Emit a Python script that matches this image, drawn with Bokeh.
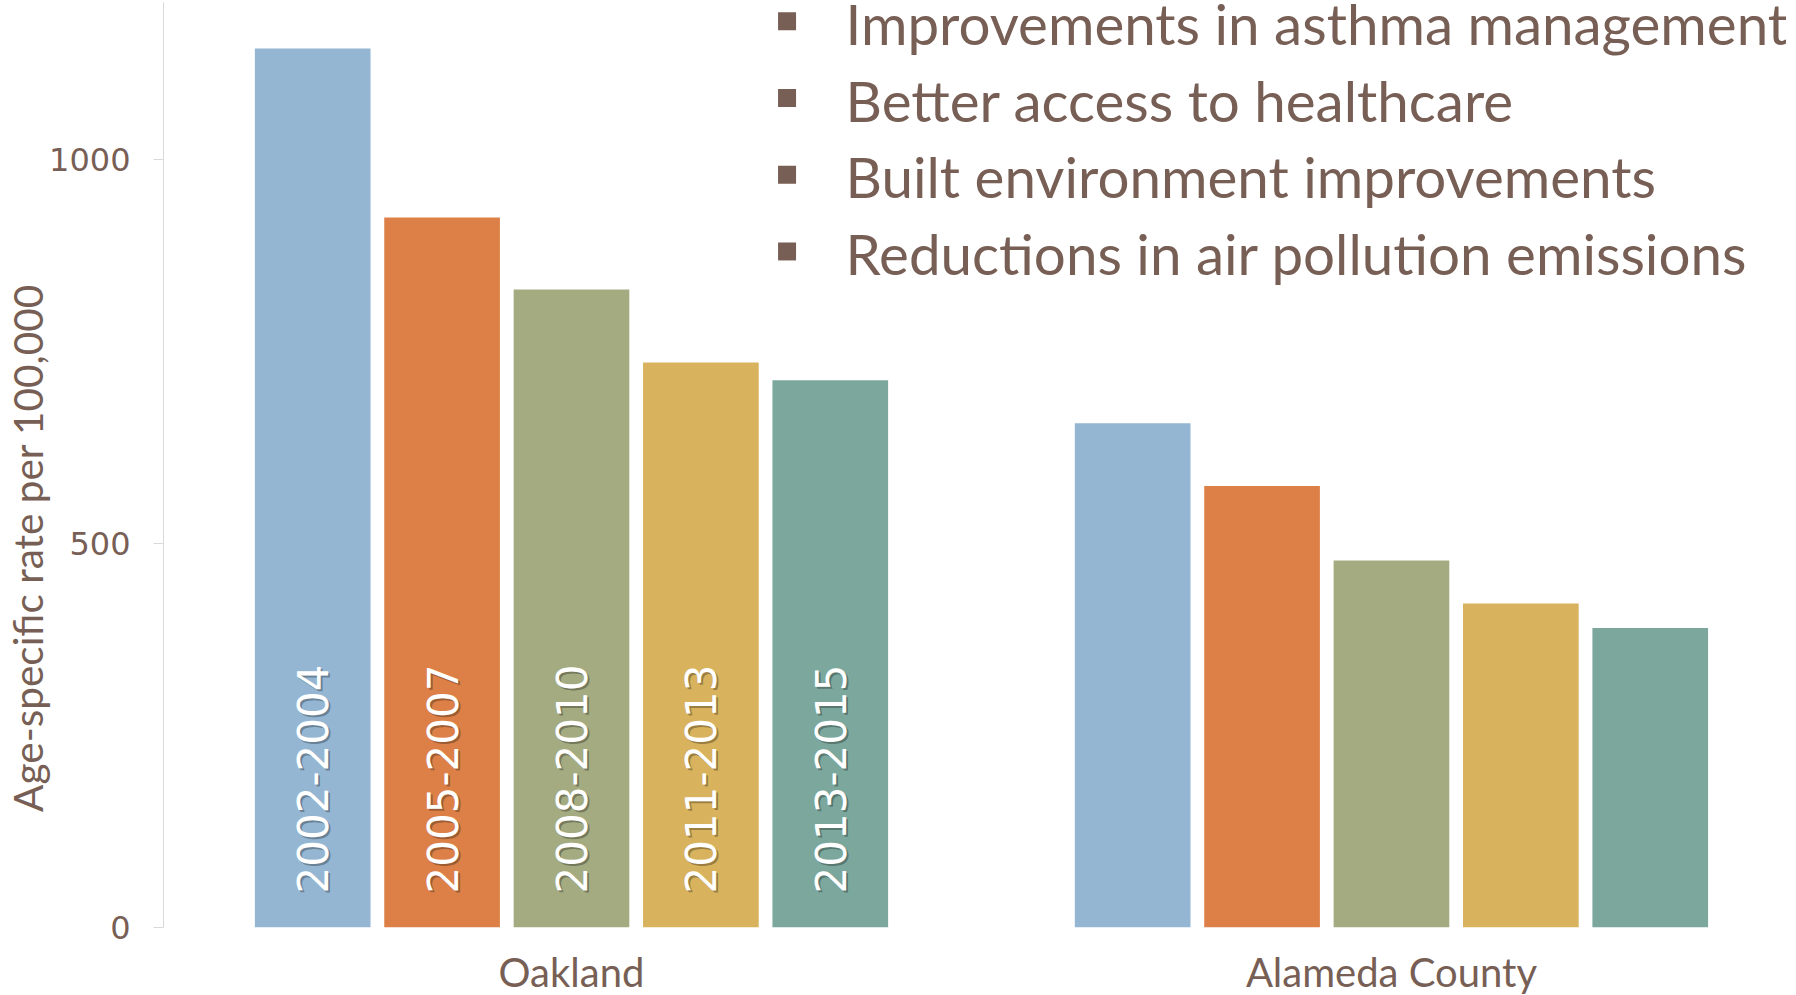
import math
from bokeh.plotting import figure
from bokeh.models import ColumnDataSource, Range1d, FixedTicker, LinearAxis
from bokeh.core.properties import value
from bokeh.embed import file_html
from bokeh.resources import INLINE

# ---------------- data ----------------
periods = ["2002-2004", "2005-2007", "2008-2010", "2011-2013", "2013-2015"]
groups = ["Oakland", "Alameda County"]
oakland = [1145, 925, 831, 736, 713]
alameda = [657, 575, 478, 422, 390]
y_ticks = [0, 500, 1000]
legend_items = [
    "Improvements in asthma management",
    "Better access to healthcare",
    "Built environment improvements",
    "Reductions in air pollution emissions",
]
y_title = "Age-specific rate per 100,000"

# ---------------- style / layout ----------------
colors = ["#94B6D2", "#DD8047", "#A5AB81", "#D8B25C", "#7BA79D"]
TEXT = "#775F55"
AXIS = "#D9D9D9"
NARROW = "Lato"
WIDE = "DejaVu Sans"

GROUP_OFFSET = 6.337   # distance (in bar steps) between first bars of the groups
BAR_W = 0.894
X_START, X_END = -1.153, 11.39
Y_START, Y_END = 0, 1205

FRAME_W, FRAME_H = 1623, 925
BORDER_L, BORDER_T, BORDER_B = 163, 2, 40
TITLE_PAD = 16          # non-breaking spaces that push the axis title down

values = [oakland, alameda]
n = len(periods)
xs, tops, cols = [], [], []
for g, vals in enumerate(values):
    for s, v in enumerate(vals):
        xs.append(g * GROUP_OFFSET + s)
        tops.append(v)
        cols.append(colors[s])
bars = ColumnDataSource(dict(x=xs, top=tops, color=cols))

p = figure(
    frame_width=FRAME_W, frame_height=FRAME_H,
    x_range=Range1d(X_START, X_END), y_range=Range1d(Y_START, Y_END),
    output_backend="svg", toolbar_location=None,
    min_border_left=BORDER_L, min_border_right=0,
    min_border_top=BORDER_T, min_border_bottom=BORDER_B,
)
p.outline_line_color = None
p.grid.visible = False
p.background_fill_color = "white"
p.border_fill_color = "white"

p.vbar(x="x", top="top", width=BAR_W, fill_color="color", line_color=None, source=bars)

# rotated period labels inside the Oakland bars
lab = ColumnDataSource(dict(x=[s for s in range(n)], y=[0] * n, text=periods))
p.text(x="x", y="y", text="text", source=lab, angle=math.pi / 2,
       text_align="left", text_baseline="middle",
       text_font=value(WIDE), text_font_size="42px",
       text_color="#000000", text_alpha=0.3, x_offset=2, y_offset=-32)
p.text(x="x", y="y", text="text", source=lab, angle=math.pi / 2,
       text_align="left", text_baseline="middle",
       text_font=value(WIDE), text_font_size="42px",
       text_color="white", x_offset=0, y_offset=-34)

# y axis
ax = p.yaxis[0]
ax.ticker = FixedTicker(ticks=y_ticks)
ax.axis_line_color = AXIS
ax.major_tick_line_color = AXIS
ax.major_tick_out = 10
ax.major_tick_in = 0
ax.minor_tick_line_color = None
ax.major_label_text_font = WIDE
ax.major_label_text_font_size = "32px"
ax.major_label_text_color = TEXT
ax.major_label_standoff = 23
ax.axis_label = y_title + "\u00a0" * TITLE_PAD
ax.axis_label_text_font = NARROW
ax.axis_label_text_font_size = "40.5px"
ax.axis_label_text_font_style = "normal"
ax.axis_label_text_color = TEXT
ax.axis_label_standoff = -6

# category axis: a second x scale on which the group centres are 0 and 1
p.xaxis.visible = False
c0 = (n - 1) / 2
p.extra_x_ranges = {"grp": Range1d((X_START - c0) / GROUP_OFFSET, (X_END - c0) / GROUP_OFFSET)}
gax = LinearAxis(x_range_name="grp")
gax.ticker = FixedTicker(ticks=list(range(len(groups))))
gax.major_label_overrides = {i: name for i, name in enumerate(groups)}
gax.axis_line_color = None
gax.major_tick_line_color = None
gax.minor_tick_line_color = None
gax.major_label_text_font = NARROW
gax.major_label_text_font_size = "40px"
gax.major_label_text_color = TEXT
gax.major_label_standoff = 14
p.add_layout(gax, "below")

# bullet list (text box)
LEG_BULLET_X, LEG_TEXT_X = 3.666, 4.118
LEG_TOP, LEG_STEP, BULLET_UP = 1178.5, 100.0, 2.2
ly = [LEG_TOP - i * LEG_STEP for i in range(len(legend_items))]
leg = ColumnDataSource(dict(bx=[LEG_BULLET_X] * len(ly), tx=[LEG_TEXT_X] * len(ly),
                            y=ly, by=[v + BULLET_UP for v in ly], text=legend_items))
p.scatter(x="bx", y="by", source=leg, marker="square", size=18, fill_color=TEXT, line_color=None)
p.text(x="tx", y="y", text="text", source=leg, text_align="left", text_baseline="alphabetic",
       text_font=value(NARROW), text_font_size="56.5px", text_color=TEXT)

open("out.html", "w").write(file_html(p, INLINE))
